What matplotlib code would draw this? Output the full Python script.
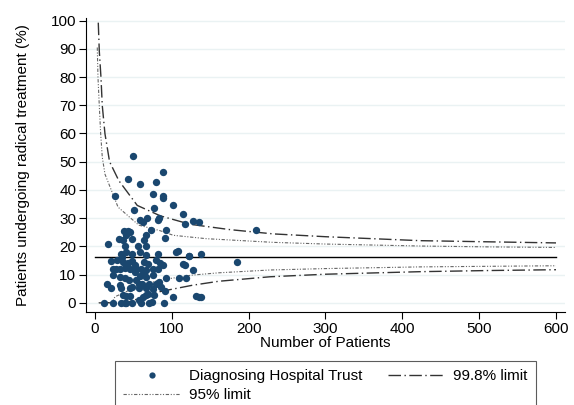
import matplotlib
matplotlib.use("Agg")
import matplotlib.pyplot as plt
from matplotlib.lines import Line2D

plt.rcParams['font.family'] = ['Liberation Sans', 'DejaVu Sans']

# hospital trusts: number of patients / % undergoing radical treatment
trust_n = [49, 43, 59, 89, 80, 26, 76, 89, 88, 102, 51, 77, 115, 68, 59, 62, 82, 83,
           127, 135, 117, 73, 92, 91, 38, 43, 46, 40, 31, 36, 48, 67, 64, 17, 39, 56,
           66, 41, 34, 35, 48, 58, 66, 82, 106, 108, 122, 138, 21, 29, 36, 43, 48, 52,
           64, 69, 79, 84, 89, 114, 117, 23, 27, 32, 39, 45, 53, 60, 67, 75, 82, 52,
           64, 23, 32, 39, 58, 67, 76, 92, 109, 118, 127, 123, 44, 53, 16, 32, 48, 57,
           61, 70, 80, 83, 21, 34, 45, 57, 66, 75, 86, 91, 36, 41, 46, 66, 69, 77,
           101, 132, 135, 138, 12, 24, 34, 39, 41, 48, 60, 70, 74, 90, 57, 62, 185, 210]
trust_pct = [51.9, 43.9, 42.1, 46.2, 42.7, 38.0, 38.4, 38.0, 37.2, 34.7, 33.0, 33.5, 31.5,
             30.0, 29.2, 28.6, 29.2, 30.0, 28.8, 28.7, 27.8, 25.9, 25.9, 22.9, 25.6, 25.4,
             25.0, 23.9, 22.7, 22.1, 22.5, 23.9, 22.4, 20.8, 20.0, 20.0, 20.0, 18.0, 17.4,
             16.2, 17.4, 18.0, 16.8, 17.1, 18.0, 18.4, 16.6, 17.4, 14.8, 15.1, 14.5, 14.2,
             14.8, 13.3, 14.5, 13.6, 15.1, 14.1, 13.3, 13.9, 13.5, 12.1, 12.1, 12.1, 12.4,
             12.1, 11.8, 12.1, 11.5, 12.1, 12.1, 10.9, 10.4, 10.0, 9.2, 8.8, 9.4, 9.2, 9.8,
             8.9, 8.6, 8.8, 11.5, 16.5, 8.0, 8.0, 6.8, 6.2, 5.6, 6.6, 6.6, 6.8, 6.6, 7.4,
             5.1, 5.1, 5.1, 5.3, 5.1, 4.7, 5.6, 4.2, 2.9, 2.4, 2.5, 2.7, 3.1, 2.7, 1.9,
             2.4, 2.1, 2.1, 0.0, 0.0, 0.0, 0.0, 0.0, 0.0, 0.0, 0.0, 0.4, 0.0, 1.0, 2.1,
             14.5, 25.9]

mean_pct = 16.3
x_range = [0, 600]

# control limits
up998_n = [4.3, 5.6, 7.8, 9.5, 13, 19, 31, 55, 85, 124, 176, 232, 300, 423, 510, 600]
up998_pct = [99.3, 89.3, 79.9, 69.9, 59.9, 50.0, 43.3, 34.5, 30.8, 27.8, 25.9, 24.4,
             23.4, 22.0, 21.6, 21.2]
up95_n = [3, 3.9, 5.6, 7.4, 9.5, 13, 30, 57, 84, 102, 145, 232, 300, 423, 510, 600]
up95_pct = [90.5, 80.0, 70.0, 60.0, 51.6, 45.6, 33.9, 27.5, 25.6, 23.9, 22.7, 21.4,
            20.8, 20.1, 19.8, 19.6]
lo95_n = [5, 22, 26, 54, 84, 127, 161, 228, 300, 423, 510, 600]
lo95_pct = [0, 0, 2.1, 5.6, 8.0, 9.8, 10.6, 11.6, 12.1, 12.7, 12.9, 13.1]
lo998_n = [5, 41, 54, 84, 127, 161, 228, 300, 423, 510, 600]
lo998_pct = [0, 0, 1.2, 3.9, 6.2, 7.6, 9.2, 10.1, 11.0, 11.4, 11.7]

navy = '#1a476f'
dash998 = (0, (9, 2.5, 1, 2.5))
dash95 = (0, (3, 1.5, 1, 1.5, 1, 1.5))

fig = plt.figure(figsize=(5.74, 4.05), dpi=100)
ax = fig.add_axes([0.1498, 0.2296, 0.8345, 0.726])

for yg in range(0, 101, 10):
    ax.axhline(yg, color='#eaf2f3', lw=1, zorder=0)

ax.plot(x_range, [mean_pct, mean_pct], color='black', lw=1, zorder=2)
ax.plot(up998_n, up998_pct, color='#333333', lw=1, ls=dash998, zorder=2)
ax.plot(lo998_n, lo998_pct, color='#333333', lw=1, ls=dash998, zorder=2)
ax.plot(up95_n, up95_pct, color='#666666', lw=0.8, ls=dash95, zorder=2)
ax.plot(lo95_n, lo95_pct, color='#666666', lw=0.8, ls=dash95, zorder=2)
ax.scatter(trust_n, trust_pct, s=28, color=navy, zorder=3, linewidths=0)

ax.set_xlim(-11.7, 611.7)
ax.set_ylim(-3.3, 100.96)
ax.set_xticks(range(0, 601, 100))
ax.set_yticks(range(0, 101, 10))
ax.spines['top'].set_visible(False)
ax.spines['right'].set_visible(False)
ax.tick_params(axis='both', direction='out', length=5, width=0.8, labelsize=11, pad=2)
ax.set_xlabel('Number of Patients', fontsize=11, labelpad=0)
ax.set_ylabel('Patients undergoing radical treatment (%)', fontsize=11, labelpad=15)

handles = [
    Line2D([], [], ls='none', marker='o', markersize=4.5, color=navy, markeredgewidth=0),
    Line2D([], [], color='#666666', lw=0.8, ls=dash95),
    Line2D([], [], color='#333333', lw=1, ls=dash998),
]
labels = ['Diagnosing Hospital Trust', '95% limit', '99.8% limit']
leg = fig.legend(handles, labels, ncol=2, loc='upper left',
                 bbox_to_anchor=(0.2003, 0.0, 0.7335, 0.1086), mode='expand',
                 borderaxespad=0, fontsize=11, handlelength=3.7, handletextpad=0.6,
                 columnspacing=1.7, borderpad=0.55, labelspacing=0.3,
                 frameon=True, fancybox=False)
leg.get_frame().set_edgecolor('#333333')
leg.get_frame().set_linewidth(0.8)

fig.savefig('out.png', dpi=100)
